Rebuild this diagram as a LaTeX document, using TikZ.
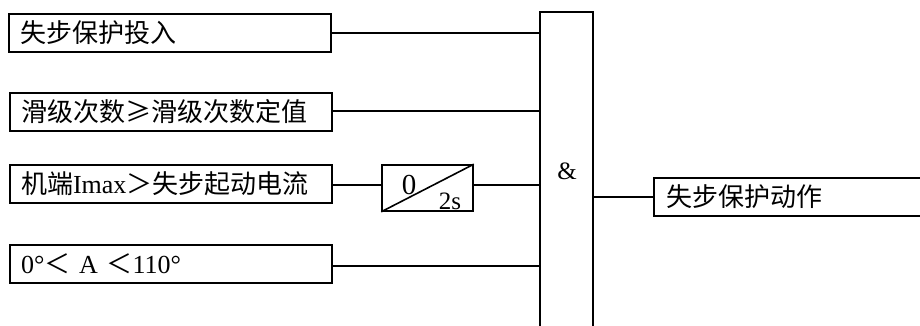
\documentclass[tikz,border=0pt]{standalone}
\usepackage{fontspec}
\setmainfont{Liberation Serif}
\newfontfamily\cjk{Noto Sans CJK SC}
\begin{document}
\begin{tikzpicture}[x=1pt,y=-1pt,
  lw/.style={line width=1.6pt},
  inbox/.style={draw,lw,minimum width=322pt,minimum height=38pt,text width=300pt,align=left,inner xsep=11pt,inner ysep=0pt,font=\fontsize{26}{30}\selectfont},
  conn/.style={lw}]
\useasboundingbox (0,0) rectangle (920,325);
\clip (0,0) rectangle (920,325);
\node[inbox] (b1) at (170,33) {\cjk 失步保护投入};
\node[inbox] (b2) at (171,112) {\cjk 滑级次数≥滑级次数定值};
\node[inbox] (b3) at (171,184) {{\cjk 机端}Imax{\cjk ＞失步起动电流}};
\node[inbox] (b4) at (171,264) {0°{\cjk ＜} A {\cjk ＜}110°};
\node[draw,lw,minimum width=53pt,minimum height=330pt,inner sep=0pt] (g) at (566.5,177) {};
\node[font=\fontsize{25}{28}\selectfont] (amp) at (567,171) {\&};
\node[draw,lw,minimum width=91pt,minimum height=46pt,inner sep=0pt] (t) at (427.5,188) {};
\draw[lw] (t.south west) -- (t.north east);
\node[font=\fontsize{29}{32}\selectfont,inner sep=0pt] (t0) at (409,185) {0};
\node[font=\fontsize{25}{28}\selectfont,inner sep=0pt] (t2) at (450,201) {2s};
\node[draw,lw,minimum width=320pt,minimum height=38pt,anchor=west,text width=298pt,align=left,inner xsep=13pt,inner ysep=0pt,font=\fontsize{26}{30}\selectfont] (o) at (653,197) {\cjk 失步保护动作};
\coordinate (c1) at (b1.east |- 0,33);
\coordinate (c2) at (b2.east |- 0,111);
\coordinate (c3) at (b3.east |- 0,185);
\coordinate (c4) at (b4.east |- 0,266);
\draw[conn] (c1) -- (c1 -| g.west);
\draw[conn] (c2) -- (c2 -| g.west);
\draw[conn] (c3) -- (c3 -| t.west);
\draw[conn] (c3 -| t.east) -- (c3 -| g.west);
\draw[conn] (c4) -- (c4 -| g.west);
\draw[conn] (g.east |- o.west) -- (o.west);
\end{tikzpicture}
\end{document}
